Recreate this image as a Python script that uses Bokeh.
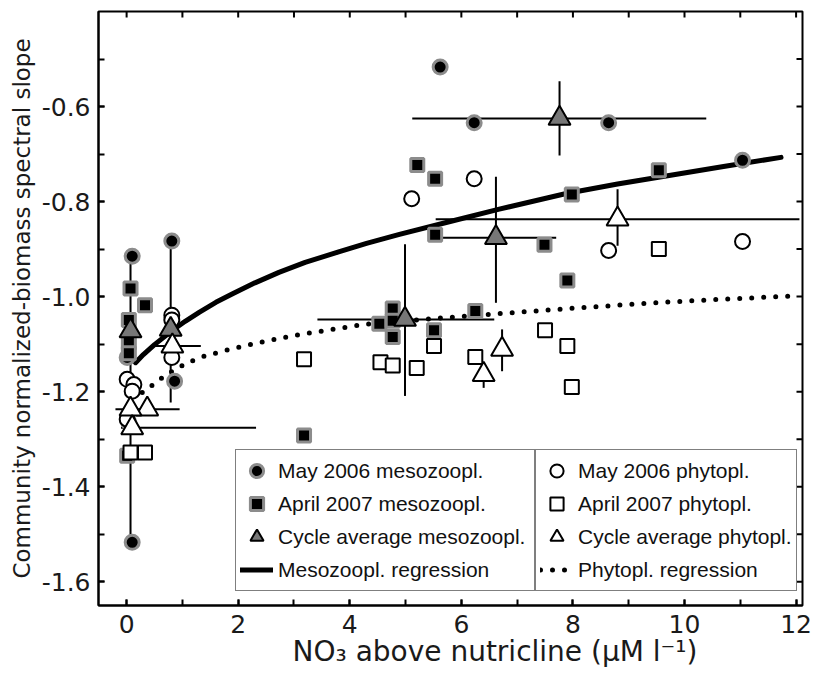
import math
from bokeh.plotting import figure
from bokeh.models import (ColumnDataSource, LinearAxis, FixedTicker, Legend, LegendItem,
                          Range1d, NumeralTickFormatter)
from bokeh.embed import file_html
from bokeh.resources import INLINE

# ---------------- data ----------------
x_ticks = [0, 2, 4, 6, 8, 10, 12]
x_minor = [0, 1, 2, 3, 4, 5, 6, 7, 8, 9, 10, 11, 12]
y_ticks = [-1.6, -1.4, -1.2, -1.0, -0.8, -0.6]
y_minor = [-1.6, -1.5, -1.4, -1.3, -1.2, -1.1, -1.0, -0.9, -0.8, -0.7, -0.6, -0.5]

may06_meso_x = [5.62, 6.23, 8.64, 11.04, 0.10, 0.81, 0.86, 0.10, 0.01, 0.04]
may06_meso_y = [-0.517, -0.634, -0.634, -0.713, -0.915, -0.883, -1.178, -1.517, -1.128, -1.265]

apr07_meso_x = [5.21, 5.53, 9.54, 7.98, 5.53, 7.49, 7.90, 4.77, 4.53, 4.77, 4.77, 6.25, 5.51,
                3.18, 0.07, 0.33, 0.04, 0.04, 0.04, 0.01]
apr07_meso_y = [-0.723, -0.752, -0.734, -0.785, -0.870, -0.891, -0.966, -1.025, -1.057, -1.051,
                -1.085, -1.030, -1.071, -1.292, -0.983, -1.018, -1.049, -1.097, -1.119, -1.335]

cyc_meso_x = [7.76, 6.62, 4.99, 0.07, 0.79]
cyc_meso_y = [-0.625, -0.876, -1.048, -1.072, -1.069]
cyc_meso_xlo = [5.12, 5.54, 3.42, 0.07, 0.79]
cyc_meso_xhi = [10.39, 7.70, 6.59, 0.07, 0.79]
cyc_meso_ylo = [-0.703, -1.013, -1.209, -1.510, -1.223]
cyc_meso_yhi = [-0.547, -0.748, -0.890, -0.920, -0.883]

may06_phyto_x = [5.11, 6.23, 8.64, 11.04, 0.81, 0.81, 0.81, 0.01, 0.13, 0.10, 0.01]
may06_phyto_y = [-0.794, -0.752, -0.903, -0.884, -1.039, -1.049, -1.128, -1.174, -1.185, -1.199, -1.258]

apr07_phyto_x = [3.18, 4.55, 4.77, 5.20, 5.51, 6.25, 7.50, 7.90, 7.98, 9.54, 0.07, 0.33]
apr07_phyto_y = [-1.132, -1.138, -1.145, -1.150, -1.104, -1.127, -1.071, -1.104, -1.190, -0.900,
                 -1.328, -1.328]

cyc_phyto_x = [8.80, 6.73, 6.40, 0.82, 0.37, 0.07, 0.10]
cyc_phyto_y = [-0.837, -1.111, -1.164, -1.104, -1.237, -1.237, -1.276]
cyc_phyto_xlo = [5.54, 6.73, 6.40, 0.46, -0.20, 0.07, -0.10]
cyc_phyto_xhi = [12.06, 6.73, 6.40, 1.33, 0.95, 0.07, 2.32]
cyc_phyto_ylo = [-0.893, -1.157, -1.192, -1.104, -1.237, -1.237, -1.276]
cyc_phyto_yhi = [-0.774, -1.069, -1.143, -1.104, -1.237, -1.237, -1.276]

meso_reg_x = [0.16, 0.3, 0.5, 0.81, 1.05, 1.3, 1.6, 1.9, 2.3, 2.73, 3.2, 3.8, 4.3, 4.89, 5.8,
              6.68, 7.88, 8.8, 9.67, 10.7, 11.73]
meso_reg_y = [-1.139, -1.122, -1.101, -1.072, -1.052, -1.033, -1.012, -0.994, -0.971, -0.949,
              -0.928, -0.906, -0.888, -0.869, -0.842, -0.816, -0.783, -0.763, -0.746, -0.726,
              -0.707]

phyto_reg_x = [0.28, 0.40, 0.7, 1.09, 1.4, 1.75, 2.4, 3.09, 4.29, 5.2, 6.08, 7.7, 9.31, 10.6,
               11.88]
phyto_reg_y = [-1.202, -1.192, -1.165, -1.139, -1.125, -1.114, -1.096, -1.080, -1.058, -1.049,
               -1.041, -1.027, -1.014, -1.006, -0.999]

labels = ["May 2006 mesozoopl.", "April 2007 mesozoopl.", "Cycle average mesozoopl.",
          "Mesozoopl. regression", "May 2006 phytopl.", "April 2007 phytopl.",
          "Cycle average phytopl.", "Phytopl. regression"]
x_title = "NO\u2083 above nutricline (\u00b5M l\u207b\u00b9)"
y_title = "Community normalized-biomass spectral slope"

AX_FONT = "DejaVu Sans"
LEG_FONT = "Liberation Sans"

# ---------------- figure ----------------
p = figure(frame_width=704, frame_height=594,
           x_range=Range1d(-0.504, 12.115), y_range=Range1d(-1.65, -0.40),
           output_backend="svg", toolbar_location=None,
           min_border_left=98, min_border_top=11, min_border_right=12, min_border_bottom=64,
           x_axis_location=None, y_axis_location=None)
p.grid.visible = False
p.outline_line_color = "black"
p.outline_line_width = 2
p.background_fill_color = "white"
p.border_fill_color = "white"


def style_axis(ax, ticks, minor):
    ax.ticker = FixedTicker(ticks=ticks, minor_ticks=minor)
    ax.axis_line_color = "black"
    ax.axis_line_width = 2
    ax.major_tick_in = 6
    ax.major_tick_out = 0
    ax.minor_tick_in = 6
    ax.minor_tick_out = 0
    ax.major_tick_line_width = 2
    ax.minor_tick_line_width = 2
    ax.major_tick_line_color = "black"
    ax.minor_tick_line_color = "black"
    ax.major_label_text_font = AX_FONT
    ax.major_label_text_font_size = "25px"
    ax.major_label_text_color = "#1a1a1a"
    ax.axis_label_text_font = AX_FONT
    ax.axis_label_text_font_style = "normal"
    ax.axis_label_text_color = "#1a1a1a"


# the x title sits right of centre in the reference: pad it with no-break spaces
xb = LinearAxis(axis_label="\u00a0" * 10 + x_title)
style_axis(xb, x_ticks, x_minor)
xb.major_label_standoff = 9
xb.axis_label_text_font_size = "28px"
xb.axis_label_standoff = -1
p.add_layout(xb, "below")

yl = LinearAxis(axis_label=y_title, formatter=NumeralTickFormatter(format="0.0"))
style_axis(yl, y_ticks, y_minor)
yl.axis_label_text_font_size = "23px"
yl.major_label_standoff = 8
yl.axis_label_standoff = 4
p.add_layout(yl, "left")

# inward ticks on the top and right edges (half of each dash is clipped by the frame)
p.scatter(x=x_minor, y=[p.y_range.end] * len(x_minor), marker="dash", size=12,
          angle=math.pi / 2, line_color="black", line_width=2)
p.scatter(x=[p.x_range.end] * len(y_minor), y=y_minor, marker="dash", size=12,
          line_color="black", line_width=2)

# ---------------- regression lines ----------------
r_meso_reg = p.line(meso_reg_x, meso_reg_y, line_color="black", line_width=5, line_cap="round",
                    line_join="round")
r_phyto_reg = p.line(phyto_reg_x, phyto_reg_y, line_color="black", line_width=5,
                     line_dash="0 12", line_cap="round")

# ---------------- error bars ----------------
src_cm = ColumnDataSource(dict(x=cyc_meso_x, y=cyc_meso_y, xlo=cyc_meso_xlo, xhi=cyc_meso_xhi,
                               ylo=cyc_meso_ylo, yhi=cyc_meso_yhi))
src_cp = ColumnDataSource(dict(x=cyc_phyto_x, y=cyc_phyto_y, xlo=cyc_phyto_xlo, xhi=cyc_phyto_xhi,
                               ylo=cyc_phyto_ylo, yhi=cyc_phyto_yhi))
for s in (src_cm, src_cp):
    p.segment(x0="xlo", y0="y", x1="xhi", y1="y", source=s, line_color="black", line_width=2)
    p.segment(x0="x", y0="ylo", x1="x", y1="yhi", source=s, line_color="black", line_width=2)

# ---------------- markers ----------------
r_may_meso = p.scatter(may06_meso_x, may06_meso_y, marker="circle", size=14, fill_color="black",
                       line_color="#8c8c8c", line_width=3)
r_apr_meso = p.scatter(apr07_meso_x, apr07_meso_y, marker="square", size=13, fill_color="black",
                       line_color="#8c8c8c", line_width=3)
r_may_phyto = p.scatter(may06_phyto_x, may06_phyto_y, marker="circle", size=15, fill_color="white",
                        line_color="black", line_width=2)
r_apr_phyto = p.scatter(apr07_phyto_x, apr07_phyto_y, marker="square", size=14, fill_color="white",
                        line_color="black", line_width=2)
r_cyc_meso = p.scatter("x", "y", source=src_cm, marker="triangle", size=22, fill_color="#777777",
                       line_color="black", line_width=2)
r_cyc_phyto = p.scatter("x", "y", source=src_cp, marker="triangle", size=22, fill_color="white",
                        line_color="black", line_width=2)


def make_legend(items, x, lw):
    return Legend(items=items, location=(x, 14), orientation="vertical",
                  glyph_width=33, glyph_height=33, label_standoff=5, label_width=lw,
                  label_height=33, spacing=0, padding=4, margin=0,
                  border_line_color="black", border_line_width=1.5,
                  background_fill_color="white", background_fill_alpha=1.0,
                  label_text_font=LEG_FONT, label_text_font_size="21px",
                  label_text_color="#111111")


leg_left = make_legend([
    LegendItem(label=labels[0], renderers=[r_may_meso]),
    LegendItem(label=labels[1], renderers=[r_apr_meso]),
    LegendItem(label=labels[2], renderers=[r_cyc_meso]),
    LegendItem(label=labels[3], renderers=[r_meso_reg]),
], 137, 252)
leg_right = make_legend([
    LegendItem(label=labels[4], renderers=[r_may_phyto]),
    LegendItem(label=labels[5], renderers=[r_apr_phyto]),
    LegendItem(label=labels[6], renderers=[r_cyc_phyto]),
    LegendItem(label=labels[7], renderers=[r_phyto_reg]),
], 437, 210)
p.add_layout(leg_left, "center")
p.add_layout(leg_right, "center")

open("out.html", "w").write(file_html(p, INLINE))
